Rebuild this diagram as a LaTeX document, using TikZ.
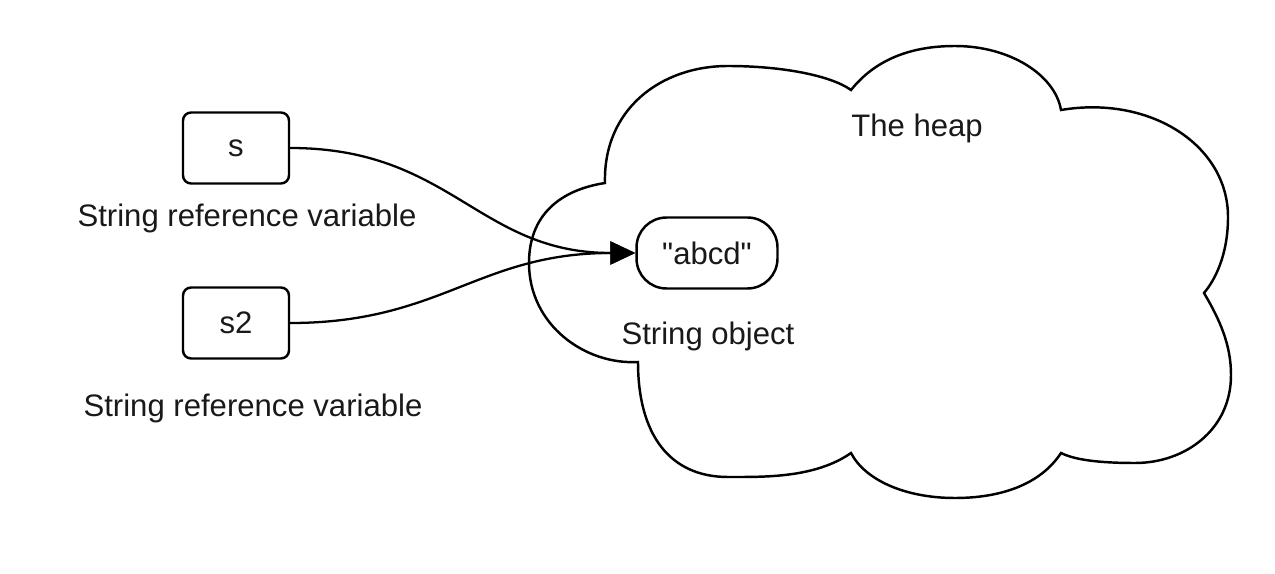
\documentclass[tikz,border=0pt]{standalone}
\usepackage{fontspec}
\setmainfont{Liberation Sans}
\usetikzlibrary{arrows.meta}
\begin{document}
\begin{tikzpicture}[x=0.02cm,y=-0.02cm,
  every node/.style={font=\fontsize{17.7}{21}\selectfont, text=black!90},
  varbox/.style={draw, line width=1.4pt, rounded corners=0.16cm, minimum width=2.12cm, minimum height=1.42cm},
  objbox/.style={draw, line width=1.4pt, rounded corners=0.6cm, minimum width=2.82cm, minimum height=1.42cm, fill=white},
  lbl/.style={inner sep=0pt},
  conn/.style={line width=1.3pt, -{Triangle[length=0.5cm,width=0.46cm]}},
  cloudline/.style={line width=1.4pt, fill=white}]
\useasboundingbox (0,0) rectangle (1275,574);
% cloud
\draw[cloudline] (638,362)
  .. controls (585,365) and (529,325) .. (529,263)
  .. controls (529,215) and (560,190) .. (605,183)
  .. controls (603,110) and (660,66) .. (728,66)
  .. controls (780,66) and (830,75) .. (851,90)
  .. controls (875,60) and (910,46) .. (955,46)
  .. controls (1010,46) and (1055,75) .. (1061,110)
  .. controls (1150,95) and (1228,145) .. (1228,217)
  .. controls (1228,255) and (1215,280) .. (1204,293)
  .. controls (1220,320) and (1231,345) .. (1231,375)
  .. controls (1231,430) and (1185,463) .. (1135,463)
  .. controls (1100,463) and (1075,460) .. (1061,453)
  .. controls (1040,485) and (1000,498) .. (955,498)
  .. controls (905,498) and (865,480) .. (851,453)
  .. controls (815,478) and (765,477) .. (728,477)
  .. controls (670,477) and (638,435) .. cycle;
\node[lbl] (heap) at (917,128) {The heap};
\node[objbox] (abcd) at (707,253) {\textquotedbl abcd\textquotedbl};
\node[lbl] (sobj) at (708,336) {String object};
\node[varbox] (s) at (236,148) {s};
\node[varbox] (s2) at (236,323) {s2};
\node[lbl] (l1) at (247,218) {String reference variable};
\node[lbl] (l2) at (253,408) {String reference variable};
\draw[conn] (s.east) .. controls +(161,0) and +(-157,0) .. (abcd.west);
\draw[conn] (s2.east) .. controls +(151,0) and +(-157,0) .. (abcd.west);
\end{tikzpicture}
\end{document}
